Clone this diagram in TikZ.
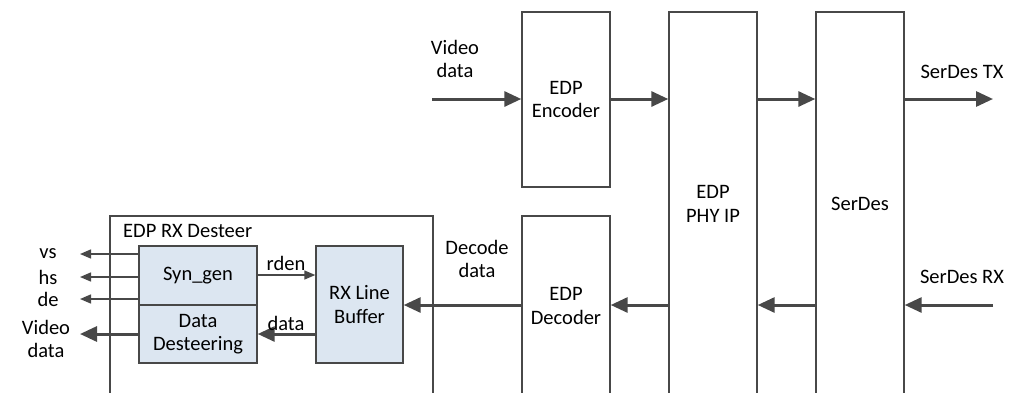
\documentclass[tikz,border=0pt]{standalone}
\usepackage{fontspec}
\setmainfont{Carlito}
\usetikzlibrary{arrows.meta}
\definecolor{ln}{HTML}{484848}
\definecolor{blk}{HTML}{DCE6F1}
\begin{document}
\begin{tikzpicture}[x=1pt,y=-1pt,
  font=\fontsize{20.5}{23.5}\selectfont,
  box/.style={draw=ln,line width=1.4pt,fill=white,align=center,inner sep=0pt},
  sub/.style={draw=ln,line width=1.4pt,fill=blk,align=center,inner sep=0pt},
  thick arr/.style={draw=ln,line width=3pt,-{Triangle[length=17pt,width=15pt]}},
  thin arr/.style={draw=ln,line width=1.4pt,-{Triangle[length=11pt,width=9pt]}},
  lbl/.style={align=center,inner sep=0pt,text=black}]
\useasboundingbox (0,0) rectangle (1015,392);
\clip (0,0) rectangle (1015,392);
\fill[white] (0,0) rectangle (1015,392);
% main blocks
\node[box,minimum width=88pt,minimum height=175pt] (enc) at (566,99.5) {EDP\\Encoder};
\node[box,minimum width=88pt,minimum height=384pt] (phy) at (713,204) {EDP\\PHY IP};
\node[box,minimum width=88pt,minimum height=384pt] (ser) at (860,204) {SerDes};
\node[box,minimum width=88pt,minimum height=180pt] (dec) at (566,306) {EDP\\Decoder};
\node[box,minimum width=323pt,minimum height=180pt] (dst) at (271.5,306) {};
\node[lbl,anchor=west] (dstl) at (123,231) {EDP RX Desteer};
% sub blocks
\node[sub,minimum width=118pt,minimum height=59pt] (syn) at (198,275.5) {Syn\_gen};
\node[sub,minimum width=118pt,minimum height=58pt] (dds) at (198,334) {Data\\Desteering};
\node[sub,minimum width=87pt,minimum height=117pt] (rxb) at (359.5,304.5) {RX Line\\Buffer};
% coordinates for free ends
\coordinate (vin) at (432,99);
\coordinate (tx) at (993,99);
\coordinate (rx) at (993,305);
\coordinate (vs) at (80,254);
\coordinate (hs) at (80,277);
\coordinate (de) at (80,299);
\coordinate (vout) at (80,334);
% top path
\draw[thick arr] (vin) -- (enc.west |- vin);
\draw[thick arr] (enc.east |- vin) -- (phy.west |- vin);
\draw[thick arr] (phy.east |- vin) -- (ser.west |- vin);
\draw[thick arr] (ser.east |- vin) -- (tx);
% bottom path
\draw[thick arr] (rx) -- (ser.east |- rx);
\draw[thick arr] (ser.west |- rx) -- (phy.east |- rx);
\draw[thick arr] (phy.west |- rx) -- (dec.east |- rx);
\draw[thick arr] (dec.west |- rx) -- (rxb.east |- rx);
% inside desteer
\draw[thin arr] (syn.east |- 0,275) -- (rxb.west |- 0,275);
\draw[thick arr] (rxb.west |- 0,334) -- (dds.east |- 0,334);
\draw[thin arr] (syn.west |- vs) -- (vs);
\draw[thin arr] (syn.west |- hs) -- (hs);
\draw[thin arr] (syn.west |- de) -- (de);
\draw[thick arr] (dds.west |- vout) -- (vout);
% labels
\node[lbl] (lvin) at (455,59) {Video\\data};
\node[lbl] (ltx) at (962,72) {SerDes TX};
\node[lbl] (lrx) at (962,277) {SerDes RX};
\node[lbl] (ldec) at (477,259) {Decode\\data};
\node[lbl] (lrden) at (286,263) {rden};
\node[lbl] (ldata) at (286,323) {data};
\node[lbl] (lvs) at (48,254) {vs};
\node[lbl] (lhs) at (48,277) {hs};
\node[lbl] (lde) at (48,299) {de};
\node[lbl] (lvout) at (46,339) {Video\\data};
\end{tikzpicture}
\end{document}
